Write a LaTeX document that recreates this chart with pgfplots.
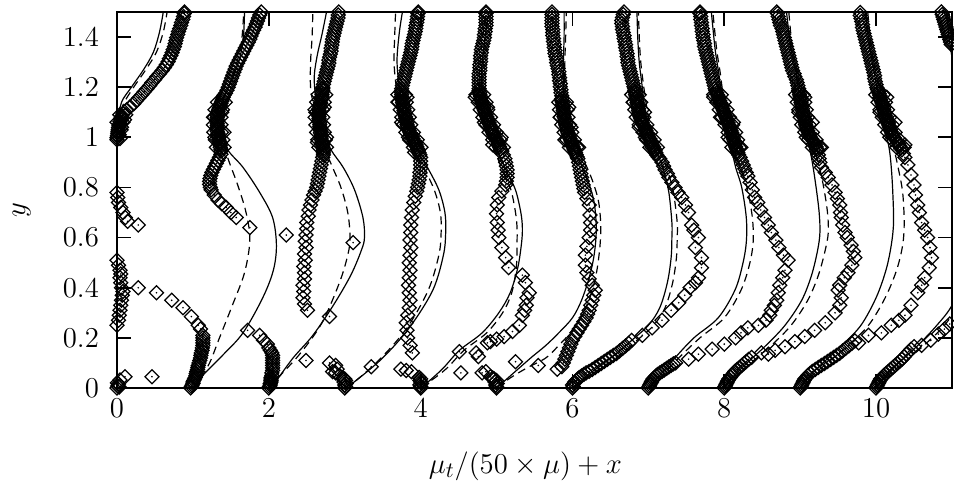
\documentclass[border=0pt]{standalone}
\usepackage{pgfplots}
\pgfplotsset{compat=1.18}
\usetikzlibrary{plotmarks}

% open diamond with a small centre dot
\pgfdeclareplotmark{gpdiamond}{%
  \pgfpathmoveto{\pgfqpoint{0pt}{\pgfplotmarksize}}%
  \pgfpathlineto{\pgfqpoint{\pgfplotmarksize}{0pt}}%
  \pgfpathlineto{\pgfqpoint{0pt}{-\pgfplotmarksize}}%
  \pgfpathlineto{\pgfqpoint{-\pgfplotmarksize}{0pt}}%
  \pgfpathclose
  \pgfusepathqstroke
  \pgfpathcircle{\pgfpointorigin}{0.45pt}%
  \pgfusepathqfill
}

\pgfplotsset{
  dia/.style={only marks, mark=gpdiamond, mark size=3.5pt,
              mark options={line width=0.62pt, black, solid}},
  sol/.style={no marks, black, line width=0.6pt, smooth, tension=0.55},
  das/.style={no marks, black, line width=0.6pt, smooth, tension=0.55,
              dash pattern=on 4pt off 2.6pt},
}

\begin{document}
\begin{tikzpicture}
\begin{axis}[
  name=ax,
  scale only axis,
  width=417.5pt, height=188pt,
  xmin=0, xmax=11, ymin=0, ymax=1.5,
  xtick={0,2,4,6,8,10},
  ytick={0,0.2,0.4,0.6,0.8,1,1.2,1.4},
  tick align=inside,
  tick pos=both,
  major tick length=7pt,
  axis line style={line width=1.1pt},
  every tick/.append style={line width=0.9pt, black},
  tick label style={font=\fontsize{14.7}{17}\selectfont},
  xticklabel style={yshift=-2pt},
  yticklabel style={xshift=-5.5pt},
  every axis x label/.style={at={(axis description cs:0.489,-0.207)}, anchor=center,
                             font=\fontsize{15.5}{18}\selectfont},
  every axis y label/.style={at={(axis description cs:-0.114,0.473)}, anchor=center,
                             rotate=90, font=\fontsize{15.5}{18}\selectfont},
  xlabel={$\mu_t/(50\times\mu)+x$},
  ylabel={$y$},
]

% ---------------- model curves (solid / dashed), one pair per station
\addplot[sol] coordinates {(0,0) (0,1.0) (0.01,1.06) (0.06,1.14) (0.19,1.2) (0.35,1.27) (0.48,1.34) (0.56,1.42) (0.61,1.5)};
\addplot[das] coordinates {(0,0) (0,1.0) (0.02,1.06) (0.08,1.13) (0.22,1.2) (0.38,1.27) (0.52,1.34) (0.61,1.42) (0.66,1.5)};

\addplot[sol] coordinates {(1.0,0) (1.13,0.05) (1.39,0.13) (1.66,0.22) (1.92,0.36) (2.06,0.47) (2.1,0.57) (2.05,0.68) (1.88,0.78) (1.66,0.88) (1.46,0.95) (1.39,1.02) (1.38,1.1) (1.42,1.17) (1.5,1.22) (1.59,1.29) (1.66,1.38) (1.68,1.5)};
\addplot[das] coordinates {(1.0,0) (1.1,0.04) (1.22,0.1) (1.35,0.2) (1.52,0.33) (1.68,0.46) (1.75,0.59) (1.7,0.7) (1.59,0.81) (1.48,0.9) (1.42,0.96) (1.38,1.05) (1.4,1.15) (1.48,1.21) (1.57,1.29) (1.64,1.38) (1.67,1.5)};

\addplot[sol] coordinates {(2.0,0) (2.1,0.03) (2.32,0.12) (2.58,0.21) (2.85,0.33) (3.08,0.45) (3.22,0.55) (3.26,0.6) (3.24,0.68) (3.13,0.79) (2.98,0.88) (2.82,0.95) (2.73,1.02) (2.66,1.1) (2.61,1.18) (2.6,1.25) (2.64,1.33) (2.7,1.41) (2.76,1.5)};
\addplot[das] coordinates {(2.0,0) (2.12,0.04) (2.42,0.14) (2.7,0.26) (2.93,0.42) (3.04,0.53) (3.07,0.6) (3.04,0.7) (2.95,0.8) (2.84,0.88) (2.76,0.94) (2.67,1.04) (2.59,1.13) (2.55,1.2) (2.55,1.3) (2.57,1.4) (2.58,1.5)};

\addplot[sol] coordinates {(3.0,0) (3.15,0.03) (3.5,0.12) (3.85,0.24) (4.16,0.39) (4.3,0.53) (4.33,0.62) (4.32,0.7) (4.24,0.79) (4.09,0.88) (3.99,0.93) (3.9,1.0) (3.8,1.08) (3.74,1.16) (3.7,1.25) (3.69,1.32) (3.72,1.42) (3.76,1.5)};
\addplot[das] coordinates {(3.0,0) (3.15,0.03) (3.48,0.12) (3.82,0.24) (4.1,0.39) (4.24,0.53) (4.27,0.62) (4.26,0.7) (4.18,0.79) (4.04,0.88) (3.95,0.93) (3.86,1.0) (3.76,1.08) (3.7,1.16) (3.66,1.25) (3.65,1.32) (3.66,1.42) (3.67,1.5)};

\addplot[sol] coordinates {(4.0,0) (4.12,0.03) (4.3,0.08) (4.51,0.15) (4.81,0.22) (5.03,0.3) (5.18,0.38) (5.28,0.48) (5.33,0.58) (5.34,0.64) (5.32,0.7) (5.25,0.79) (5.14,0.86) (5.05,0.92) (4.97,0.97) (4.88,1.05) (4.82,1.15) (4.8,1.25) (4.83,1.35) (4.87,1.45) (4.9,1.5)};
\addplot[das] coordinates {(4.0,0) (4.14,0.03) (4.35,0.08) (4.57,0.15) (4.87,0.22) (5.08,0.3) (5.2,0.38) (5.26,0.48) (5.27,0.58) (5.27,0.64) (5.25,0.7) (5.19,0.79) (5.09,0.86) (5.01,0.92) (4.94,0.97) (4.85,1.05) (4.79,1.15) (4.77,1.25) (4.8,1.35) (4.84,1.45) (4.87,1.5)};

\addplot[sol] coordinates {(5.0,0) (5.15,0.04) (5.3,0.08) (5.47,0.125) (5.65,0.17) (5.82,0.22) (6.0,0.28) (6.12,0.35) (6.22,0.44) (6.28,0.52) (6.31,0.6) (6.31,0.67) (6.28,0.75) (6.2,0.83) (6.1,0.9) (6.02,0.95) (5.95,1.02) (5.9,1.1) (5.88,1.2) (5.88,1.3) (5.89,1.4) (5.89,1.5)};
\addplot[das] coordinates {(5.0,0) (5.18,0.04) (5.4,0.08) (5.65,0.12) (5.82,0.17) (5.97,0.22) (6.12,0.29) (6.23,0.36) (6.31,0.45) (6.35,0.53) (6.37,0.6) (6.37,0.67) (6.34,0.75) (6.26,0.83) (6.16,0.9) (6.06,0.95) (5.98,1.02) (5.92,1.1) (5.9,1.2) (5.9,1.3) (5.91,1.4) (5.92,1.5)};

\addplot[sol] coordinates {(6.0,0) (6.15,0.04) (6.35,0.085) (6.55,0.13) (6.78,0.19) (7.0,0.25) (7.15,0.32) (7.25,0.42) (7.3,0.52) (7.31,0.6) (7.31,0.66) (7.27,0.78) (7.2,0.87) (7.1,0.95) (7.02,1.02) (6.96,1.1) (6.92,1.2) (6.88,1.3) (6.86,1.4) (6.85,1.5)};
\addplot[das] coordinates {(6.0,0) (6.18,0.04) (6.4,0.085) (6.62,0.13) (6.85,0.19) (7.07,0.25) (7.22,0.32) (7.32,0.42) (7.37,0.52) (7.38,0.6) (7.38,0.66) (7.33,0.78) (7.25,0.87) (7.14,0.95) (7.05,1.02) (6.99,1.1) (6.94,1.2) (6.9,1.3) (6.88,1.4) (6.87,1.5)};

\addplot[sol] coordinates {(7.0,0) (7.15,0.05) (7.35,0.12) (7.6,0.2) (7.92,0.28) (8.14,0.39) (8.24,0.49) (8.29,0.58) (8.29,0.68) (8.23,0.8) (8.15,0.88) (8.1,0.95) (8.03,1.05) (7.98,1.13) (7.93,1.25) (7.88,1.35) (7.83,1.5)};
\addplot[das] coordinates {(7.0,0) (7.18,0.05) (7.4,0.12) (7.68,0.2) (8.0,0.28) (8.22,0.39) (8.33,0.49) (8.38,0.58) (8.37,0.68) (8.3,0.8) (8.21,0.88) (8.14,0.95) (8.06,1.05) (8.0,1.13) (7.95,1.25) (7.9,1.35) (7.85,1.5)};

\addplot[sol] coordinates {(8.0,0) (8.1,0.04) (8.3,0.1) (8.55,0.17) (8.8,0.25) (9.02,0.35) (9.15,0.45) (9.23,0.55) (9.26,0.62) (9.25,0.7) (9.21,0.8) (9.16,0.9) (9.12,0.96) (9.05,1.05) (9.0,1.13) (8.95,1.25) (8.88,1.35) (8.82,1.5)};
\addplot[das] coordinates {(8.0,0) (8.12,0.04) (8.35,0.1) (8.62,0.17) (8.88,0.25) (9.1,0.35) (9.24,0.45) (9.33,0.55) (9.37,0.62) (9.36,0.7) (9.31,0.8) (9.24,0.9) (9.18,0.96) (9.09,1.05) (9.03,1.13) (8.97,1.25) (8.9,1.35) (8.85,1.5)};

\addplot[sol] coordinates {(9.0,0) (9.1,0.04) (9.3,0.1) (9.55,0.17) (9.8,0.25) (10.0,0.36) (10.13,0.47) (10.2,0.57) (10.23,0.66) (10.22,0.78) (10.2,0.88) (10.17,0.96) (10.1,1.05) (10.05,1.13) (9.98,1.25) (9.92,1.35) (9.86,1.5)};
\addplot[das] coordinates {(9.0,0) (9.12,0.04) (9.36,0.1) (9.63,0.17) (9.9,0.25) (10.12,0.36) (10.27,0.47) (10.35,0.57) (10.37,0.66) (10.35,0.78) (10.29,0.88) (10.23,0.96) (10.14,1.05) (10.08,1.13) (10.0,1.25) (9.94,1.35) (9.89,1.5)};

\addplot[sol] coordinates {(10.0,0) (10.1,0.04) (10.3,0.1) (10.55,0.17) (10.8,0.25) (11.0,0.33) (11.15,0.45)};
\addplot[das] coordinates {(10.0,0) (10.12,0.04) (10.36,0.1) (10.63,0.17) (10.9,0.25) (11.1,0.34) (11.25,0.45)};
\addplot[sol] coordinates {(11.3,0.95) (11.2,1.05) (11.12,1.15) (11.05,1.25) (11.0,1.32) (10.96,1.4) (10.93,1.5)};
\addplot[das] coordinates {(11.33,0.95) (11.23,1.05) (11.15,1.15) (11.08,1.25) (11.03,1.32) (10.99,1.4) (10.96,1.5)};

% ---------------- measured profiles (diamonds), one series per station
% station 0
\addplot[dia] coordinates {(0,0) (0.01,0.008) (0.02,0.016) (0.005,0.02) (0.03,0.004) (0.04,0.032) (0.105,0.045) (0.46,0.045)
(0,0.25) (0.02,0.27) (0.03,0.29) (0.04,0.31) (0.05,0.33) (0.06,0.35) (0.07,0.37) (0.08,0.385) (0.06,0.40) (0.05,0.42) (0.04,0.44) (0.05,0.455) (0.04,0.47) (0.02,0.49) (0,0.51) (-0.01,0.525) (0.28,0.40)
(-0.02,0.80) (0,0.78) (0.01,0.76) (0.02,0.74) (0.05,0.72) (0.08,0.70) (0.11,0.68) (0.14,0.665) (0.28,0.65)
(0,0.99) (0,0.998) (0.005,1.006) (0.01,1.014) (0.012,1.022) (0.015,1.03) (0.02,1.038) (0.025,1.046) (0.035,1.054) (0.04,1.062) (0.05,1.07) (0.055,1.078) (0.065,1.086) (0.08,1.094) (0.1,1.102) (-0.03,1.0) (0.03,1.01) (0.06,1.04) (0.1,1.07)
(-0.04,1.0) (0.04,0.995) (-0.025,1.03) (0.055,1.03) (0.0,1.06) (0.08,1.06) (0.035,1.09) (0.115,1.09)
(0.13,1.11) (0.175,1.122) (0.22,1.134) (0.255,1.146) (0.29,1.158) (0.325,1.17) (0.36,1.182) (0.395,1.194) (0.43,1.206) (0.46,1.218) (0.495,1.23) (0.525,1.242) (0.56,1.254) (0.595,1.266) (0.625,1.278) (0.65,1.29) (0.675,1.302) (0.69,1.314) (0.71,1.326) (0.725,1.338) (0.74,1.35) (0.755,1.362) (0.765,1.374) (0.775,1.386) (0.785,1.398) (0.8,1.41) (0.81,1.422) (0.825,1.434) (0.84,1.446) (0.85,1.458) (0.865,1.47) (0.875,1.482) (0.885,1.494) (0.89,1.5)};

% station 1
\addplot[dia] coordinates {(0.97,0) (0.98,0.006) (0.99,0.012) (1.0,0.018) (1.0,0.024) (1.01,0.03) (1.02,0.036) (1.03,0.042) (1.04,0.05) (1.045,0.058) (1.05,0.066) (1.06,0.074) (1.065,0.082) (1.07,0.09) (1.08,0.1) (1.09,0.11) (1.1,0.12) (1.105,0.13) (1.11,0.14) (1.12,0.15) (1.125,0.16) (1.13,0.17) (1.13,0.18) (1.13,0.19) (1.13,0.2) (1.13,0.21)
(1.1,0.235) (1.07,0.25) (0.98,0.285) (0.87,0.32) (0.72,0.35) (0.52,0.38)
(1.75,0.64) (1.57,0.68) (1.5,0.7) (1.44,0.72) (1.38,0.735) (1.33,0.75) (1.28,0.77) (1.24,0.79)
(1.23,0.8) (1.22,0.812) (1.22,0.824) (1.225,0.836) (1.235,0.848) (1.25,0.86) (1.27,0.872) (1.29,0.884) (1.31,0.896) (1.33,0.908) (1.35,0.92) (1.37,0.932) (1.37,0.944)
(1.37,0.952) (1.36,0.96) (1.36,0.968) (1.35,0.976) (1.35,0.984) (1.34,0.992) (1.34,1.0) (1.33,1.008) (1.33,1.016) (1.32,1.024) (1.32,1.032) (1.32,1.04) (1.32,1.048) (1.32,1.056) (1.32,1.064) (1.32,1.072) (1.32,1.08) (1.32,1.088) (1.33,1.096) (1.33,1.104) (1.34,1.112) (1.35,1.12) (1.36,1.128) (1.37,1.136) (1.38,1.144) (1.39,1.152) (1.4,1.16) (1.41,1.168) (1.29,1.0) (1.41,1.02) (1.28,1.08) (1.38,1.1)
(1.31,0.96) (1.41,0.96) (1.295,0.99) (1.395,0.99) (1.275,1.02) (1.375,1.02) (1.27,1.05) (1.37,1.05) (1.27,1.08) (1.37,1.08) (1.29,1.11) (1.39,1.11) (1.325,1.14) (1.425,1.14)
(1.43,1.176) (1.45,1.188) (1.465,1.2) (1.48,1.212) (1.495,1.224) (1.51,1.236) (1.525,1.248) (1.54,1.26) (1.555,1.272) (1.57,1.284) (1.59,1.296) (1.61,1.308) (1.63,1.32) (1.65,1.332) (1.67,1.344) (1.69,1.356) (1.71,1.368) (1.73,1.38) (1.75,1.392) (1.765,1.404) (1.78,1.416) (1.8,1.428) (1.82,1.44) (1.835,1.452) (1.85,1.464) (1.865,1.476) (1.88,1.488) (1.9,1.5)};

% station 2
\addplot[dia] coordinates {(2.0,0) (2.01,0.006) (2.02,0.012) (2.02,0.018) (2.03,0.024) (2.03,0.03) (2.03,0.036) (2.03,0.042) (2.04,0.05) (2.04,0.06) (2.05,0.07) (2.05,0.08) (2.05,0.09) (2.05,0.1) (2.05,0.11) (2.05,0.12) (2.05,0.13) (2.04,0.14) (2.02,0.15) (2.0,0.16) (1.98,0.175) (1.93,0.19) (1.88,0.21) (1.72,0.23)
(2.49,0.11) (2.8,0.285) (2.23,0.61) (3.11,0.58)
(2.51,0.31) (2.47,0.335) (2.45,0.36) (2.46,0.385) (2.45,0.41) (2.47,0.435) (2.47,0.46) (2.46,0.485) (2.48,0.51) (2.47,0.535) (2.49,0.56) (2.48,0.585) (2.49,0.61) (2.5,0.635) (2.5,0.66) (2.52,0.685) (2.53,0.71) (2.55,0.73) (2.57,0.75) (2.59,0.77)
(2.61,0.785) (2.63,0.8) (2.64,0.815) (2.65,0.83) (2.66,0.845) (2.67,0.86) (2.68,0.875) (2.69,0.89) (2.7,0.905) (2.71,0.92)
(2.72,0.93) (2.72,0.938) (2.72,0.946) (2.72,0.954) (2.71,0.962) (2.71,0.97) (2.7,0.978) (2.7,0.986) (2.69,0.994) (2.69,1.002) (2.69,1.01) (2.68,1.018) (2.68,1.026) (2.68,1.034) (2.67,1.042) (2.67,1.05) (2.67,1.058) (2.66,1.066) (2.66,1.074) (2.66,1.082) (2.66,1.09) (2.66,1.098) (2.66,1.106) (2.66,1.114) (2.67,1.122) (2.67,1.13) (2.68,1.138) (2.68,1.146) (2.69,1.154) (2.7,1.162) (2.7,1.17) (2.7,1.178) (2.71,1.186) (2.71,1.194) (2.64,0.98) (2.76,1.0) (2.62,1.1) (2.73,1.12)
(2.66,0.96) (2.76,0.96) (2.645,0.99) (2.745,0.99) (2.63,1.02) (2.73,1.02) (2.62,1.05) (2.72,1.05) (2.61,1.08) (2.71,1.08) (2.61,1.11) (2.71,1.11) (2.63,1.14) (2.73,1.14) (2.65,1.17) (2.75,1.17)
(2.71,1.2) (2.72,1.212) (2.73,1.224) (2.74,1.236) (2.75,1.248) (2.76,1.26) (2.77,1.272) (2.78,1.284) (2.79,1.296) (2.79,1.308) (2.8,1.32) (2.81,1.332) (2.82,1.344) (2.82,1.356) (2.83,1.368) (2.835,1.38) (2.84,1.392) (2.85,1.404) (2.86,1.416) (2.87,1.428) (2.88,1.44) (2.89,1.452) (2.9,1.464) (2.91,1.476) (2.915,1.488) (2.92,1.5)};

% station 3
\addplot[dia] coordinates {(3.0,0) (3.01,0.006) (3.0,0.012) (3.02,0.018) (2.99,0.024) (3.01,0.03) (3.0,0.036) (2.98,0.04) (2.88,0.06) (2.9,0.075) (2.88,0.09) (2.84,0.065) (2.8,0.1) (2.93,0.05) (3.35,0.085)
(3.89,0.14) (3.86,0.17) (3.83,0.2) (3.82,0.23) (3.81,0.26) (3.83,0.29) (3.85,0.32) (3.86,0.35) (3.85,0.38) (3.84,0.41) (3.85,0.44) (3.86,0.47) (3.85,0.5) (3.86,0.53) (3.87,0.56) (3.86,0.59) (3.87,0.62) (3.87,0.65) (3.88,0.68) (3.89,0.71) (3.91,0.74) (3.93,0.765) (3.95,0.785)
(3.96,0.8) (3.97,0.815) (3.98,0.83) (3.99,0.845) (3.99,0.86) (4.0,0.875) (4.0,0.89) (4.0,0.905) (4.0,0.92)
(3.99,0.93) (3.98,0.938) (3.97,0.946) (3.96,0.954) (3.95,0.962) (3.94,0.97) (3.93,0.978) (3.91,0.986) (3.9,0.994) (3.89,1.002) (3.87,1.01) (3.86,1.018) (3.85,1.026) (3.84,1.034) (3.83,1.042) (3.82,1.05) (3.82,1.058) (3.81,1.066) (3.81,1.074) (3.8,1.082) (3.79,1.09) (3.79,1.098) (3.78,1.106) (3.78,1.114) (3.77,1.122) (3.77,1.13) (3.76,1.138) (3.76,1.146) (3.75,1.154) (3.75,1.162) (3.75,1.17) (3.75,1.178) (3.75,1.186) (3.75,1.194) (3.92,0.94) (3.84,1.0) (3.75,1.06) (3.7,1.14) (3.82,1.16)
(3.905,0.96) (4.005,0.96) (3.855,0.99) (3.955,0.99) (3.805,1.02) (3.905,1.02) (3.77,1.05) (3.87,1.05) (3.75,1.08) (3.85,1.08) (3.73,1.11) (3.83,1.11) (3.71,1.14) (3.81,1.14) (3.7,1.17) (3.8,1.17)
(3.76,1.206) (3.77,1.218) (3.78,1.23) (3.79,1.242) (3.8,1.254) (3.81,1.266) (3.82,1.278) (3.83,1.29) (3.84,1.302) (3.85,1.314) (3.86,1.326) (3.87,1.338) (3.88,1.35) (3.885,1.362) (3.89,1.374) (3.9,1.386) (3.91,1.398) (3.92,1.41) (3.93,1.422) (3.935,1.434) (3.94,1.446) (3.95,1.458) (3.955,1.47) (3.96,1.482) (3.965,1.494) (3.97,1.5)};

% station 4
\addplot[dia] coordinates {(4.0,0) (4.0,0.006) (3.99,0.012) (4.01,0.018) (4.0,0.024) (3.99,0.03) (4.0,0.036) (3.98,0.042) (3.81,0.07) (3.88,0.065) (3.74,0.075)
(4.53,0.06) (4.51,0.145) (4.73,0.14) (4.76,0.125) (4.81,0.06) (4.88,0.18) (4.92,0.185) (5.0,0.195) (5.1,0.205) (5.21,0.225) (5.3,0.25) (5.34,0.29) (5.37,0.31) (5.39,0.33) (5.4,0.36) (5.43,0.38) (5.38,0.42) (5.34,0.45) (5.16,0.48) (5.12,0.52) (5.07,0.56) (5.03,0.6) (5.02,0.63) (5.01,0.66) (5.0,0.695) (5.01,0.73) (5.03,0.76) (5.07,0.785) (5.12,0.81)
(5.13,0.825) (5.14,0.84) (5.14,0.855) (5.14,0.87) (5.13,0.885) (5.12,0.9) (5.11,0.915) (5.09,0.93) (5.07,0.945)
(5.05,0.954) (5.04,0.962) (5.03,0.97) (5.02,0.978) (5.01,0.986) (4.99,0.994) (4.98,1.002) (4.96,1.01) (4.95,1.018) (4.94,1.026) (4.93,1.034) (4.92,1.042) (4.91,1.05) (4.9,1.058) (4.89,1.066) (4.88,1.074) (4.87,1.082) (4.86,1.09) (4.85,1.098) (4.84,1.106) (4.83,1.114) (4.83,1.122) (4.82,1.13) (4.81,1.138) (4.8,1.146) (4.79,1.154) (4.79,1.162) (4.78,1.17) (4.78,1.178) (4.77,1.186) (4.77,1.194) (4.95,0.97) (5.06,1.0) (4.84,1.06) (4.72,1.16) (4.88,1.12)
(4.99,0.96) (5.09,0.96) (4.95,0.99) (5.05,0.99) (4.9,1.02) (5.0,1.02) (4.86,1.05) (4.96,1.05) (4.82,1.08) (4.92,1.08) (4.785,1.11) (4.885,1.11) (4.76,1.14) (4.86,1.14) (4.73,1.17) (4.83,1.17)
(4.77,1.206) (4.77,1.218) (4.77,1.23) (4.77,1.242) (4.77,1.254) (4.78,1.266) (4.78,1.278) (4.78,1.29) (4.79,1.302) (4.79,1.314) (4.79,1.326) (4.8,1.338) (4.8,1.35) (4.81,1.362) (4.82,1.374) (4.83,1.386) (4.84,1.398) (4.84,1.41) (4.85,1.422) (4.85,1.434) (4.86,1.446) (4.86,1.458) (4.86,1.47) (4.86,1.482) (4.86,1.494) (4.86,1.5)};

% station 5
\addplot[dia] coordinates {(5.0,0) (5.0,0.006) (4.99,0.012) (5.01,0.018) (4.98,0.024) (5.0,0.03) (4.97,0.036) (4.95,0.04) (4.92,0.045) (4.86,0.065)
(5.25,0.105) (5.55,0.09) (5.8,0.075) (5.86,0.085) (5.88,0.1) (5.9,0.115) (5.92,0.13) (5.94,0.145) (5.96,0.16) (5.98,0.175) (6.0,0.19) (6.03,0.205) (6.06,0.22) (6.09,0.235) (6.12,0.25) (6.15,0.265) (6.18,0.28) (6.2,0.295) (6.22,0.31) (6.24,0.33) (6.26,0.35) (6.28,0.37) (6.3,0.39) (6.26,0.41) (6.22,0.435) (6.19,0.46) (6.17,0.49) (6.17,0.53) (6.19,0.565) (6.22,0.6) (6.24,0.63) (6.24,0.66) (6.23,0.69) (6.22,0.73) (6.19,0.755) (6.16,0.78)
(6.15,0.795) (6.14,0.81) (6.13,0.825) (6.12,0.84) (6.11,0.855) (6.1,0.87) (6.09,0.885) (6.08,0.9) (6.07,0.915)
(6.06,0.922) (6.05,0.93) (6.04,0.938) (6.03,0.946) (6.02,0.954) (6.01,0.962) (6.0,0.97) (5.99,0.978) (5.98,0.986) (5.97,0.994) (5.96,1.002) (5.95,1.01) (5.94,1.018) (5.93,1.026) (5.93,1.034) (5.92,1.042) (5.91,1.05) (5.91,1.058) (5.9,1.066) (5.9,1.074) (5.89,1.082) (5.89,1.09) (5.89,1.098) (5.88,1.106) (5.88,1.114) (5.88,1.122) (5.87,1.13) (5.87,1.138) (5.86,1.146) (5.86,1.154) (6.08,0.96) (5.9,0.99) (5.98,1.04) (5.84,1.08) (5.95,1.12)
(5.96,0.96) (6.06,0.96) (5.925,0.99) (6.025,0.99) (5.89,1.02) (5.99,1.02) (5.86,1.05) (5.96,1.05) (5.84,1.08) (5.94,1.08) (5.83,1.11) (5.93,1.11) (5.82,1.14) (5.92,1.14)
(5.86,1.166) (5.85,1.178) (5.85,1.19) (5.84,1.202) (5.84,1.214) (5.83,1.226) (5.83,1.238) (5.82,1.25) (5.82,1.262) (5.81,1.274) (5.8,1.286) (5.79,1.298) (5.79,1.31) (5.78,1.322) (5.77,1.334) (5.77,1.346) (5.76,1.358) (5.76,1.37) (5.75,1.382) (5.75,1.394) (5.74,1.406) (5.74,1.418) (5.74,1.43) (5.73,1.442) (5.73,1.454) (5.73,1.466) (5.73,1.478) (5.73,1.49) (5.73,1.5)};

% station 6
\addplot[dia] coordinates {(6.0,0) (6.01,0.006) (6.0,0.012) (6.02,0.018) (6.03,0.024) (6.05,0.03) (6.07,0.036) (6.09,0.042) (6.12,0.048) (6.15,0.054) (6.18,0.06) (6.22,0.066) (6.26,0.074) (6.3,0.082) (6.34,0.09) (6.38,0.098) (6.42,0.106) (6.46,0.114) (6.5,0.122) (6.54,0.13) (6.58,0.138) (6.62,0.148) (6.66,0.158) (6.7,0.168) (6.74,0.178) (6.78,0.19)
(6.92,0.21) (7.05,0.24) (7.18,0.27) (7.3,0.31) (7.4,0.34) (7.48,0.37) (7.55,0.4) (7.62,0.42) (7.66,0.44) (7.7,0.48) (7.7,0.52) (7.62,0.56) (7.66,0.6) (7.6,0.63) (7.57,0.65) (7.53,0.7) (7.49,0.73) (7.44,0.76) (7.39,0.78) (7.35,0.8) (7.31,0.82) (7.27,0.84)
(7.25,0.855) (7.22,0.87) (7.2,0.885) (7.18,0.9) (7.15,0.915)
(7.13,0.922) (7.11,0.93) (7.1,0.938) (7.09,0.946) (7.08,0.954) (7.07,0.962) (7.05,0.97) (7.04,0.978) (7.03,0.986) (7.02,0.994) (7.0,1.002) (6.99,1.01) (6.98,1.018) (6.97,1.026) (6.96,1.034) (6.95,1.042) (6.93,1.05) (6.92,1.058) (6.91,1.066) (6.9,1.074) (6.89,1.082) (6.88,1.09) (6.88,1.098) (6.87,1.106) (6.87,1.114) (6.86,1.122) (6.86,1.13) (6.85,1.138) (6.85,1.146) (6.84,1.154) (6.84,1.162) (6.83,1.17) (6.83,1.178) (6.82,1.186) (6.82,1.194) (6.81,1.202) (7.05,0.96) (6.96,1.0) (6.88,1.04) (6.95,1.1) (6.8,1.14)
(7.02,0.96) (7.12,0.96) (6.975,0.99) (7.075,0.99) (6.93,1.02) (7.03,1.02) (6.88,1.05) (6.98,1.05) (6.84,1.08) (6.94,1.08) (6.82,1.11) (6.92,1.11) (6.8,1.14) (6.9,1.14) (6.78,1.17) (6.88,1.17)
(6.8,1.214) (6.79,1.226) (6.78,1.238) (6.77,1.25) (6.76,1.262) (6.75,1.274) (6.74,1.286) (6.73,1.298) (6.73,1.31) (6.72,1.322) (6.72,1.334) (6.71,1.346) (6.7,1.358) (6.7,1.37) (6.69,1.382) (6.68,1.394) (6.68,1.406) (6.67,1.418) (6.66,1.43) (6.66,1.442) (6.65,1.454) (6.65,1.466) (6.66,1.478) (6.67,1.49) (6.68,1.5)};

% station 7
\addplot[dia] coordinates {(7.0,0) (7.01,0.006) (7.02,0.012) (7.03,0.018) (7.04,0.024) (7.05,0.03) (7.06,0.036) (7.08,0.042) (7.1,0.048) (7.12,0.054) (7.15,0.06) (7.18,0.066) (7.21,0.072) (7.24,0.078) (7.27,0.084) (7.3,0.09) (7.33,0.096) (7.36,0.1)
(7.53,0.115) (7.66,0.135) (7.84,0.155) (8.0,0.175) (8.15,0.2) (8.22,0.22) (8.31,0.24) (8.45,0.25) (8.55,0.27) (8.6,0.29) (8.62,0.31) (8.66,0.33) (8.69,0.35) (8.71,0.38) (8.73,0.41) (8.77,0.44) (8.8,0.47) (8.84,0.51) (8.78,0.53) (8.72,0.56) (8.68,0.59) (8.62,0.62) (8.58,0.65) (8.53,0.68) (8.48,0.71) (8.44,0.74) (8.4,0.76) (8.37,0.79) (8.34,0.82) (8.31,0.845)
(8.29,0.86) (8.27,0.875) (8.25,0.89) (8.23,0.905) (8.21,0.92)
(8.19,0.93) (8.18,0.938) (8.17,0.946) (8.16,0.954) (8.15,0.962) (8.14,0.97) (8.14,0.978) (8.13,0.986) (8.12,0.994) (8.12,1.002) (8.11,1.01) (8.1,1.018) (8.09,1.026) (8.08,1.034) (8.07,1.042) (8.06,1.05) (8.05,1.058) (8.04,1.066) (8.03,1.074) (8.02,1.082) (8.01,1.09) (8.0,1.098) (7.99,1.106) (7.98,1.114) (7.97,1.122) (7.96,1.13) (7.95,1.138) (7.94,1.146) (7.93,1.154) (7.92,1.162) (7.91,1.17) (7.9,1.178) (7.89,1.186) (8.22,0.96) (8.05,1.0) (8.12,1.06) (7.95,1.08) (7.86,1.16)
(8.1,0.96) (8.2,0.96) (8.075,0.99) (8.175,0.99) (8.05,1.02) (8.15,1.02) (8.01,1.05) (8.11,1.05) (7.97,1.08) (8.07,1.08) (7.935,1.11) (8.035,1.11) (7.9,1.14) (8.0,1.14) (7.86,1.17) (7.96,1.17)
(7.88,1.194) (7.87,1.206) (7.86,1.218) (7.85,1.23) (7.84,1.242) (7.83,1.254) (7.82,1.266) (7.81,1.278) (7.8,1.29) (7.79,1.302) (7.78,1.314) (7.77,1.326) (7.76,1.338) (7.75,1.35) (7.74,1.362) (7.74,1.374) (7.73,1.386) (7.72,1.398) (7.72,1.41) (7.71,1.422) (7.71,1.434) (7.7,1.446) (7.7,1.458) (7.69,1.47) (7.69,1.482) (7.68,1.494) (7.68,1.5)};

% station 8
\addplot[dia] coordinates {(8.0,0) (8.01,0.006) (8.02,0.012) (8.03,0.018) (8.04,0.024) (8.05,0.03) (8.06,0.036) (8.08,0.042) (8.1,0.05) (8.12,0.058) (8.14,0.066) (8.17,0.074) (8.2,0.082) (8.23,0.09) (8.26,0.098) (8.29,0.106) (8.32,0.114) (8.36,0.122)
(8.49,0.14) (8.58,0.135) (8.67,0.15) (8.8,0.165) (8.93,0.185) (9.06,0.205) (9.19,0.23) (9.33,0.26) (9.46,0.3) (9.52,0.33) (9.54,0.36) (9.5,0.39) (9.52,0.41) (9.58,0.44) (9.63,0.46) (9.68,0.49) (9.72,0.52) (9.7,0.545) (9.67,0.57) (9.62,0.6) (9.59,0.62) (9.56,0.65) (9.54,0.68) (9.53,0.7) (9.52,0.73) (9.49,0.755) (9.46,0.78) (9.42,0.81) (9.37,0.84) (9.33,0.86) (9.28,0.88) (9.26,0.9)
(9.25,0.915) (9.24,0.93) (9.23,0.945)
(9.22,0.954) (9.21,0.962) (9.2,0.97) (9.19,0.978) (9.17,0.986) (9.15,0.994) (9.13,1.002) (9.12,1.01) (9.11,1.018) (9.1,1.026) (9.09,1.034) (9.08,1.042) (9.07,1.05) (9.07,1.058) (9.06,1.066) (9.06,1.074) (9.05,1.082) (9.04,1.09) (9.04,1.098) (9.03,1.106) (9.03,1.114) (9.02,1.122) (9.02,1.13) (9.01,1.138) (9.01,1.146) (9.0,1.154) (9.0,1.162) (8.99,1.17) (8.99,1.178) (8.98,1.186) (8.98,1.194) (9.28,0.96) (9.08,1.0) (9.16,1.06) (8.98,1.1) (9.06,1.16)
(9.16,0.96) (9.26,0.96) (9.11,0.99) (9.21,0.99) (9.06,1.02) (9.16,1.02) (9.02,1.05) (9.12,1.05) (9.0,1.08) (9.1,1.08) (8.98,1.11) (9.08,1.11) (8.96,1.14) (9.06,1.14) (8.94,1.17) (9.04,1.17)
(8.97,1.206) (8.96,1.218) (8.95,1.23) (8.93,1.242) (8.92,1.254) (8.9,1.266) (8.89,1.278) (8.88,1.29) (8.87,1.302) (8.86,1.314) (8.85,1.326) (8.84,1.338) (8.83,1.35) (8.82,1.362) (8.81,1.374) (8.8,1.386) (8.79,1.398) (8.78,1.41) (8.77,1.422) (8.76,1.434) (8.74,1.446) (8.73,1.458) (8.72,1.47) (8.71,1.482) (8.7,1.494) (8.69,1.5)};

% station 9
\addplot[dia] coordinates {(9.0,0) (9.01,0.006) (9.02,0.012) (9.03,0.018) (9.04,0.024) (9.05,0.03) (9.06,0.036) (9.08,0.042) (9.1,0.05) (9.13,0.058) (9.16,0.066) (9.2,0.074) (9.24,0.082) (9.28,0.09) (9.32,0.098) (9.36,0.106) (9.4,0.114) (9.44,0.122) (9.48,0.13) (9.52,0.138) (9.56,0.148) (9.6,0.158) (9.64,0.168) (9.68,0.178) (9.72,0.188)
(9.77,0.18) (9.9,0.21) (10.07,0.22) (10.2,0.25) (10.3,0.27) (10.38,0.29) (10.46,0.33) (10.55,0.38) (10.6,0.41) (10.64,0.44) (10.7,0.48) (10.73,0.52) (10.71,0.56) (10.68,0.6) (10.64,0.63) (10.6,0.66) (10.57,0.7) (10.55,0.73) (10.52,0.77) (10.5,0.81) (10.46,0.85) (10.42,0.89) (10.38,0.92)
(10.36,0.935) (10.34,0.95)
(10.33,0.958) (10.31,0.966) (10.3,0.974) (10.28,0.982) (10.26,0.99) (10.24,0.998) (10.22,1.006) (10.21,1.014) (10.2,1.022) (10.19,1.03) (10.18,1.038) (10.17,1.046) (10.16,1.054) (10.15,1.062) (10.14,1.07) (10.13,1.078) (10.12,1.086) (10.12,1.094) (10.11,1.102) (10.1,1.11) (10.1,1.118) (10.09,1.126) (10.08,1.134) (10.07,1.142) (10.06,1.15) (10.05,1.158) (10.05,1.166) (10.04,1.174) (10.03,1.182) (10.02,1.19) (10.38,0.97) (10.18,1.0) (10.25,1.06) (10.05,1.1) (10.14,1.16)
(10.27,0.96) (10.37,0.96) (10.21,0.99) (10.31,0.99) (10.15,1.02) (10.25,1.02) (10.115,1.05) (10.215,1.05) (10.08,1.08) (10.18,1.08) (10.05,1.11) (10.15,1.11) (10.025,1.14) (10.125,1.14) (9.995,1.17) (10.095,1.17)
(10.01,1.198) (10.0,1.21) (9.99,1.222) (9.98,1.234) (9.98,1.246) (9.97,1.258) (9.96,1.27) (9.95,1.282) (9.94,1.294) (9.93,1.306) (9.92,1.318) (9.91,1.33) (9.9,1.342) (9.89,1.354) (9.88,1.366) (9.87,1.378) (9.86,1.39) (9.85,1.402) (9.84,1.414) (9.83,1.426) (9.82,1.438) (9.82,1.45) (9.81,1.462) (9.8,1.474) (9.79,1.486) (9.79,1.498)};

% station 10
\addplot[dia] coordinates {(10.0,0) (10.01,0.006) (10.02,0.012) (10.03,0.018) (10.04,0.024) (10.05,0.03) (10.06,0.036) (10.08,0.042) (10.1,0.05) (10.13,0.058) (10.16,0.066) (10.19,0.074) (10.22,0.082) (10.25,0.09) (10.28,0.098) (10.31,0.106) (10.34,0.114) (10.37,0.124) (10.4,0.134) (10.43,0.145) (10.46,0.155) (10.5,0.165)
(10.6,0.17) (10.72,0.19) (10.82,0.215) (10.9,0.235) (10.97,0.255)
(10.86,1.5) (10.87,1.49) (10.88,1.48) (10.89,1.47) (10.9,1.46) (10.91,1.45) (10.92,1.44) (10.93,1.43) (10.94,1.42) (10.95,1.41) (10.96,1.4) (10.97,1.39) (10.98,1.38) (10.99,1.37)};

\end{axis}
\pgfresetboundingbox
\path ([shift={(-58.5pt,-48.5pt)}]ax.south west) rectangle ([shift={(1pt,6pt)}]ax.north east);
\end{tikzpicture}
\end{document}
